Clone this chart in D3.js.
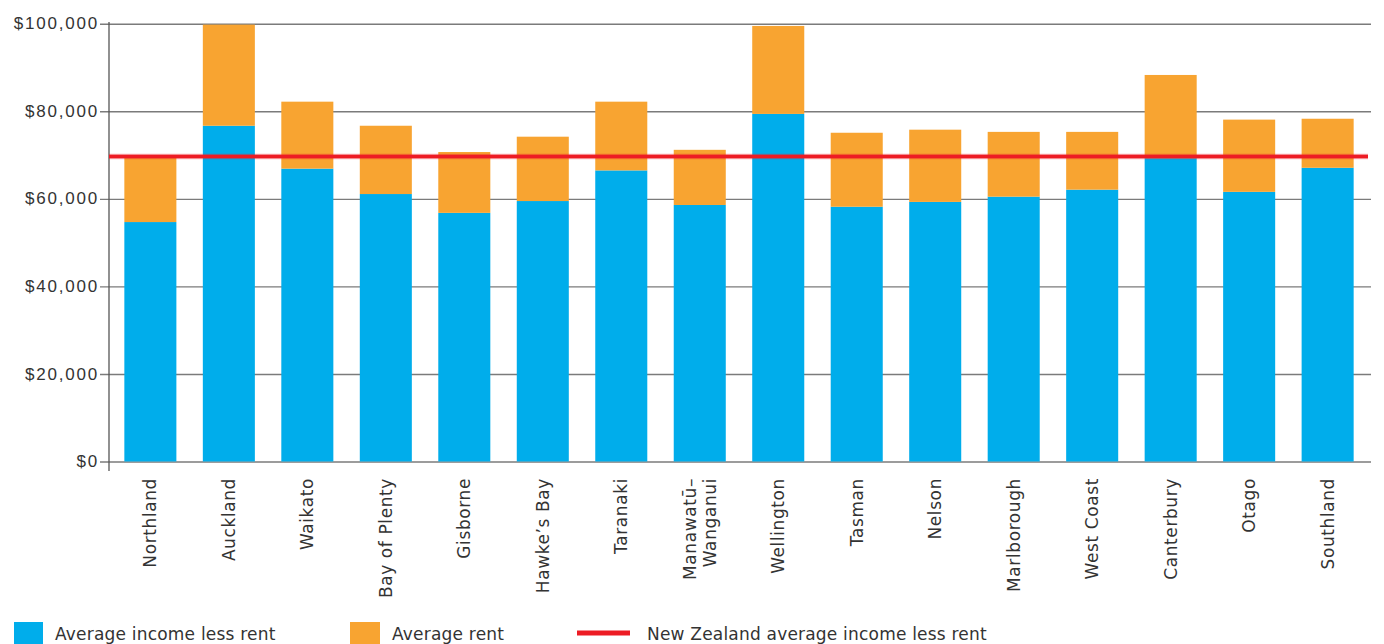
<!DOCTYPE html>
<html>
<head>
<meta charset="utf-8">
<script src="https://cdn.jsdelivr.net/npm/d3@7/dist/d3.min.js"></script>
<style>
  html, body { margin: 0; padding: 0; background: #fff; }
  svg { display: block; font-family: "DejaVu Sans", sans-serif; }
</style>
</head>
<body>
<svg id="chart" width="1384" height="644"></svg>
<script>
// Regions (labels may span two lines)
const regions = [
  ["Northland"], ["Auckland"], ["Waikato"], ["Bay of Plenty"], ["Gisborne"],
  ["Hawke\u2019s Bay"], ["Taranaki"], ["Manawat\u016b\u2013", "Wanganui"], ["Wellington"],
  ["Tasman"], ["Nelson"], ["Marlborough"], ["West Coast"], ["Canterbury"],
  ["Otago"], ["Southland"]
];
// Average income less rent ($)
const incomeLessRent = [54700, 76700, 66900, 61100, 56800, 59500, 66500, 58600,
                        79400, 58200, 59300, 60500, 62100, 69300, 61600, 67100];
// Average rent ($)
const averageRent = [14700, 23100, 15300, 15600, 13900, 14700, 15700, 12600,
                     20100, 16900, 16500, 14800, 13200, 19000, 16500, 11200];
// National average income less rent ($)
const nzAverage = 69700;
const yTicks = [0, 20000, 40000, 60000, 80000, 100000];
const seriesNames = ["Average income less rent", "Average rent"];
const seriesColors = ["#00adeb", "#f8a431"];
const lineName = "New Zealand average income less rent";
const lineColor = "#ed1c24";

const svg = d3.select("#chart");
const keys = regions.map(r => r.join(" "));

const x = d3.scaleBand().domain(keys).range([111, 1367]).paddingInner(0.337).paddingOuter(0.17);
const y = d3.scaleLinear().domain([0, 100000]).range([461.5, 23.75]);

const fmt = v => "$" + d3.format(",")(v);

// Horizontal gridlines with left ticks
const yAxis = d3.axisLeft(y).tickValues(yTicks).tickFormat(fmt)
  .tickSize(-(1371 - 109)).tickSizeOuter(0).tickPadding(10);
const gy = svg.append("g").attr("transform", "translate(109,0)").call(yAxis);
gy.select(".domain").remove();
gy.selectAll(".tick line").attr("x1", -9).attr("stroke", "#7b7b7b").attr("stroke-width", 1.4);
gy.selectAll(".tick text").attr("fill", "#333").attr("font-size", 17)
  .attr("letter-spacing", "1.8px").attr("dy", "0.3em");

// Vertical axis line
svg.append("line").attr("x1", 109).attr("x2", 109).attr("y1", 22).attr("y2", 471)
  .attr("stroke", "#555").attr("stroke-width", 1.3);

// Stacked bars
const table = keys.map((k, i) => ({ key: k, income: incomeLessRent[i], rent: averageRent[i] }));
const stack = d3.stack().keys(["income", "rent"])(table);
svg.append("g").selectAll("g").data(stack).join("g")
  .attr("fill", (d, i) => seriesColors[i])
  .selectAll("rect").data(d => d).join("rect")
  .attr("x", d => x(d.data.key))
  .attr("width", x.bandwidth())
  .attr("y", d => y(d[1]))
  .attr("height", d => y(d[0]) - y(d[1]));

// National average line
const yl = y(nzAverage);
svg.append("line").attr("x1", 109).attr("x2", 1368).attr("y1", yl).attr("y2", yl)
  .attr("stroke", lineColor).attr("stroke-opacity", 0.35).attr("stroke-width", 5.5);
svg.append("line").attr("x1", 109).attr("x2", 1368).attr("y1", yl).attr("y2", yl)
  .attr("stroke", lineColor).attr("stroke-width", 3.5);

// Rotated category labels
const xl = svg.append("g");
regions.forEach((lines, i) => {
  const cx = x(keys[i]) + x.bandwidth() / 2;
  const n = lines.length;
  const t = xl.append("text")
    .attr("transform", `translate(${cx},478) rotate(-90)`)
    .attr("text-anchor", "end")
    .attr("fill", "#333")
    .attr("font-size", 17)
    .attr("letter-spacing", "0.6px");
  lines.forEach((s, j) => {
    t.append("tspan").attr("x", 0)
      .attr("y", (j - (n - 1) / 2) * 20.5 + 6)
      .text(s);
  });
});

// Legend
const lg = svg.append("g").attr("font-size", 17).attr("fill", "#333").attr("letter-spacing", "0.2px");
lg.append("rect").attr("x", 14).attr("y", 622).attr("width", 29).attr("height", 24).attr("fill", seriesColors[0]);
lg.append("text").attr("x", 55).attr("y", 640).text(seriesNames[0]);
lg.append("rect").attr("x", 350).attr("y", 622).attr("width", 30).attr("height", 24).attr("fill", seriesColors[1]);
lg.append("text").attr("x", 392).attr("y", 640).text(seriesNames[1]);
lg.append("line").attr("x1", 577).attr("x2", 630).attr("y1", 633).attr("y2", 633)
  .attr("stroke", lineColor).attr("stroke-width", 5);
lg.append("text").attr("x", 647).attr("y", 640).text(lineName);
</script>
</body>
</html>
